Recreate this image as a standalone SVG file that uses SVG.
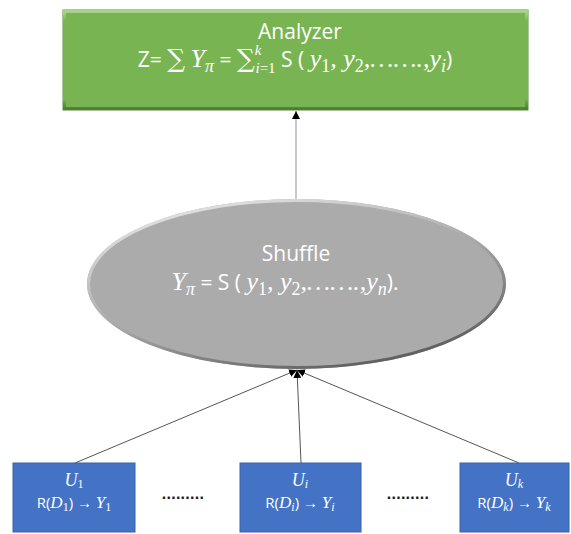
<svg xmlns="http://www.w3.org/2000/svg" width="571" height="534" viewBox="0 0 571 534">
  <style>
    .lbl { font-family: "Open Sans", "Liberation Sans", sans-serif; fill: #ffffff; }
    .m { font-family: "Liberation Serif", "DejaVu Serif", serif; font-style: italic; }
    .n { font-family: "Liberation Serif", "DejaVu Serif", serif; font-style: normal; }
    .sym { font-family: "DejaVu Serif", "Liberation Serif", serif; font-style: normal; }
    .conn { stroke: #555555; stroke-width: 1; fill: none; }
    .user rect { fill: #4472C4; stroke: #3A62AA; stroke-width: 1; }
  </style>
  <defs>
    <marker id="ah" viewBox="0 0 10 10" refX="10" refY="5" markerWidth="8" markerHeight="8" markerUnits="userSpaceOnUse" orient="auto">
      <path d="M0,0 L10,5 L0,10 Z" fill="#000000"/>
    </marker>
    <linearGradient id="greenRim" x1="0" y1="0" x2="0" y2="1">
      <stop offset="0" stop-color="#A9D38D"/>
      <stop offset="0.1" stop-color="#78B552"/>
      <stop offset="0.9" stop-color="#78B552"/>
      <stop offset="1" stop-color="#4F7F34"/>
    </linearGradient>
    <linearGradient id="grayRim" x1="0.2" y1="0" x2="0.8" y2="1">
      <stop offset="0" stop-color="#E6E6E6"/>
      <stop offset="0.5" stop-color="#A8A8A8"/>
      <stop offset="1" stop-color="#555555"/>
    </linearGradient>
  </defs>

  <!-- connectors -->
  <g id="connectors">
    <line x1="296" y1="199" x2="296" y2="111" stroke="#A6A6A6" stroke-width="1.2" marker-end="url(#ah)"/>
    <line class="conn" x1="75" y1="463" x2="297" y2="370" marker-end="url(#ah)"/>
    <line class="conn" x1="301" y1="463" x2="297" y2="370" marker-end="url(#ah)"/>
    <line class="conn" x1="519" y1="463" x2="297" y2="370" marker-end="url(#ah)"/>
  </g>

  <!-- analyzer -->
  <g id="analyzer">
    <rect x="63" y="10" width="465" height="100" fill="#78B552" stroke="#5A8E3B" stroke-width="1"/>
    <rect x="64.5" y="11.5" width="462" height="97" fill="none" stroke="url(#greenRim)" stroke-width="3"/>
    <text class="lbl" x="300" y="39" font-size="21" text-anchor="middle">Analyzer</text>
    <text class="lbl" x="295" y="67" font-size="21" text-anchor="middle">Z= <tspan class="sym" font-size="25">∑</tspan> <tspan class="m" font-size="26">Y</tspan><tspan class="m" font-size="18" dy="5">π</tspan><tspan dy="-5"> = </tspan><tspan class="sym" font-size="25">∑</tspan><tspan class="m" font-size="15" dy="-12">k</tspan><tspan class="m" font-size="15" dx="-6" dy="18">i</tspan><tspan class="n" font-size="15">=1</tspan><tspan dy="-6"> S ( </tspan><tspan class="m" font-size="26">y</tspan><tspan class="n" font-size="18" dy="5">1</tspan><tspan class="m" font-size="26" dy="-5">, y</tspan><tspan class="n" font-size="18" dy="5">2</tspan><tspan class="m" font-size="26" dy="-5">,…….,y</tspan><tspan class="m" font-size="18" dy="5">i</tspan><tspan dy="-5">)</tspan></text>
  </g>

  <!-- shuffle -->
  <g id="shuffle">
    <ellipse cx="296.5" cy="284" rx="209.5" ry="85" fill="#ABABAB"/>
    <ellipse cx="296.5" cy="284" rx="208" ry="83.5" fill="none" stroke="url(#grayRim)" stroke-width="3"/>
    <text class="lbl" x="296" y="261" font-size="21" text-anchor="middle">Shuffle</text>
    <text class="lbl" x="285" y="290" font-size="21" text-anchor="middle"><tspan class="m" font-size="26">Y</tspan><tspan class="m" font-size="18" dy="5">π</tspan><tspan dy="-5"> = S ( </tspan><tspan class="m" font-size="26">y</tspan><tspan class="n" font-size="18" dy="5">1</tspan><tspan class="m" font-size="26" dy="-5">, y</tspan><tspan class="n" font-size="18" dy="5">2</tspan><tspan class="m" font-size="26" dy="-5">,…….,y</tspan><tspan class="m" font-size="18" dy="5">n</tspan><tspan dy="-5">).</tspan></text>
  </g>

  <!-- users -->
  <g id="user-1" class="user">
    <rect x="13" y="463" width="122" height="69"/>
    <text class="lbl m" x="74" y="486" font-size="18" text-anchor="middle">U<tspan font-style="normal" font-size="12" dy="2">1</tspan></text>
    <text class="lbl" x="74" y="508" font-size="15" text-anchor="middle">R(<tspan class="m" font-size="17">D</tspan><tspan class="n" font-size="12" dy="3">1</tspan><tspan dy="-3">) → </tspan><tspan class="m" font-size="17">Y</tspan><tspan class="n" font-size="12" dy="3">1</tspan></text>
  </g>

  <g id="user-i" class="user">
    <rect x="240" y="463" width="121" height="69"/>
    <text class="lbl m" x="300" y="486" font-size="18" text-anchor="middle">U<tspan font-size="12" dy="2">i</tspan></text>
    <text class="lbl" x="300" y="508" font-size="15" text-anchor="middle">R(<tspan class="m" font-size="17">D</tspan><tspan class="m" font-size="12" dy="3">i</tspan><tspan dy="-3">) → </tspan><tspan class="m" font-size="17">Y</tspan><tspan class="m" font-size="12" dy="3">i</tspan></text>
  </g>

  <g id="user-k" class="user">
    <rect x="460" y="463" width="109" height="69"/>
    <text class="lbl m" x="514" y="486" font-size="18" text-anchor="middle">U<tspan font-size="12" dy="2">k</tspan></text>
    <text class="lbl" x="514" y="508" font-size="15" text-anchor="middle">R(<tspan class="m" font-size="17">D</tspan><tspan class="m" font-size="12" dy="3">k</tspan><tspan dy="-3">) → </tspan><tspan class="m" font-size="17">Y</tspan><tspan class="m" font-size="12" dy="3">k</tspan></text>
  </g>

  <!-- ellipsis between users -->
  <text x="183" y="499" font-family="Liberation Sans, sans-serif" font-size="16" font-weight="bold" fill="#1a1a1a" text-anchor="middle" letter-spacing="0.3">.........</text>
  <text x="408" y="499" font-family="Liberation Sans, sans-serif" font-size="16" font-weight="bold" fill="#1a1a1a" text-anchor="middle" letter-spacing="0.3">.........</text>
</svg>
